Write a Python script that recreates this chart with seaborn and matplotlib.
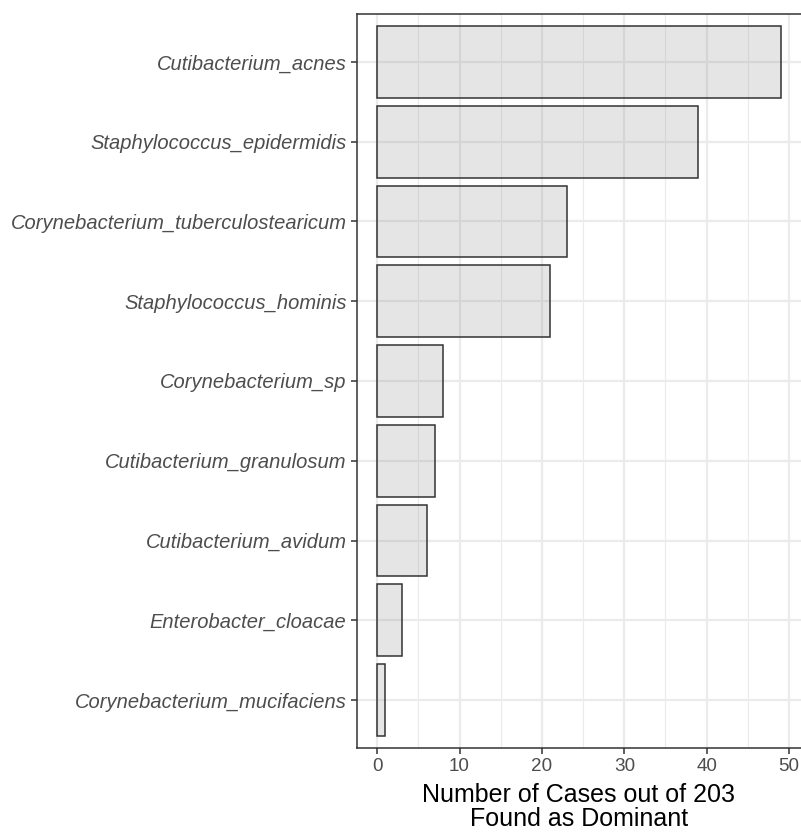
import matplotlib
matplotlib.use("Agg")
import matplotlib.pyplot as plt
import seaborn as sns
import pandas as pd

species = ["Cutibacterium_acnes", "Staphylococcus_epidermidis",
           "Corynebacterium_tuberculostearicum", "Staphylococcus_hominis",
           "Corynebacterium_sp", "Cutibacterium_granulosum",
           "Cutibacterium_avidum", "Enterobacter_cloacae",
           "Corynebacterium_mucifaciens"]
counts = [49, 39, 23, 21, 8, 7, 6, 3, 1]
x_ticks = [0, 10, 20, 30, 40, 50]
x_label = "Number of Cases out of 203\nFound as Dominant"

df = pd.DataFrame({"species": species, "count": counts})

sns.set_theme(style="white")
plt.rcParams["font.family"] = ["Liberation Sans", "DejaVu Sans"]

fig = plt.figure(figsize=(8.01, 8.32), dpi=100)
ax = fig.add_axes([357/801, 1 - 748/832, (801 - 357)/801, (748 - 14)/832])

sns.barplot(data=df, x="count", y="species", orient="h", width=0.9,
            color="#808080", edgecolor="#333333", linewidth=1.1, ax=ax,
            order=species)
for p in ax.patches:
    p.set_facecolor((0.5, 0.5, 0.5, 0.2))
    p.set_edgecolor("#333333")

ax.set_xlim(-2.45, 51.45)
ax.set_ylim(len(species) - 0.4, -0.6)
ax.set_xticks(x_ticks)
ax.set_xticks([5, 15, 25, 35, 45], minor=True)
ax.set_axisbelow(True)
ax.grid(True, which="major", axis="both", color="#EBEBEB", linewidth=1.6)
ax.grid(True, which="minor", axis="x", color="#EBEBEB", linewidth=0.8)

for s in ax.spines.values():
    s.set_color("#333333")
    s.set_linewidth(1.1)
ax.spines["right"].set_visible(False)

ax.tick_params(axis="both", which="major", length=4, width=1.1, color="#333333",
               labelcolor="#4D4D4D", bottom=True, left=True)
ax.tick_params(axis="x", which="major", labelsize=13.6, pad=3)
ax.tick_params(axis="y", which="major", labelsize=14.5, pad=3.5)
ax.tick_params(axis="x", which="minor", length=0)
for lbl in ax.get_yticklabels():
    lbl.set_fontstyle("italic")

ax.set_ylabel("")
ax.set_xlabel(x_label, fontsize=18, color="black", linespacing=1.0, labelpad=6)

fig.savefig("out.png", dpi=100)
